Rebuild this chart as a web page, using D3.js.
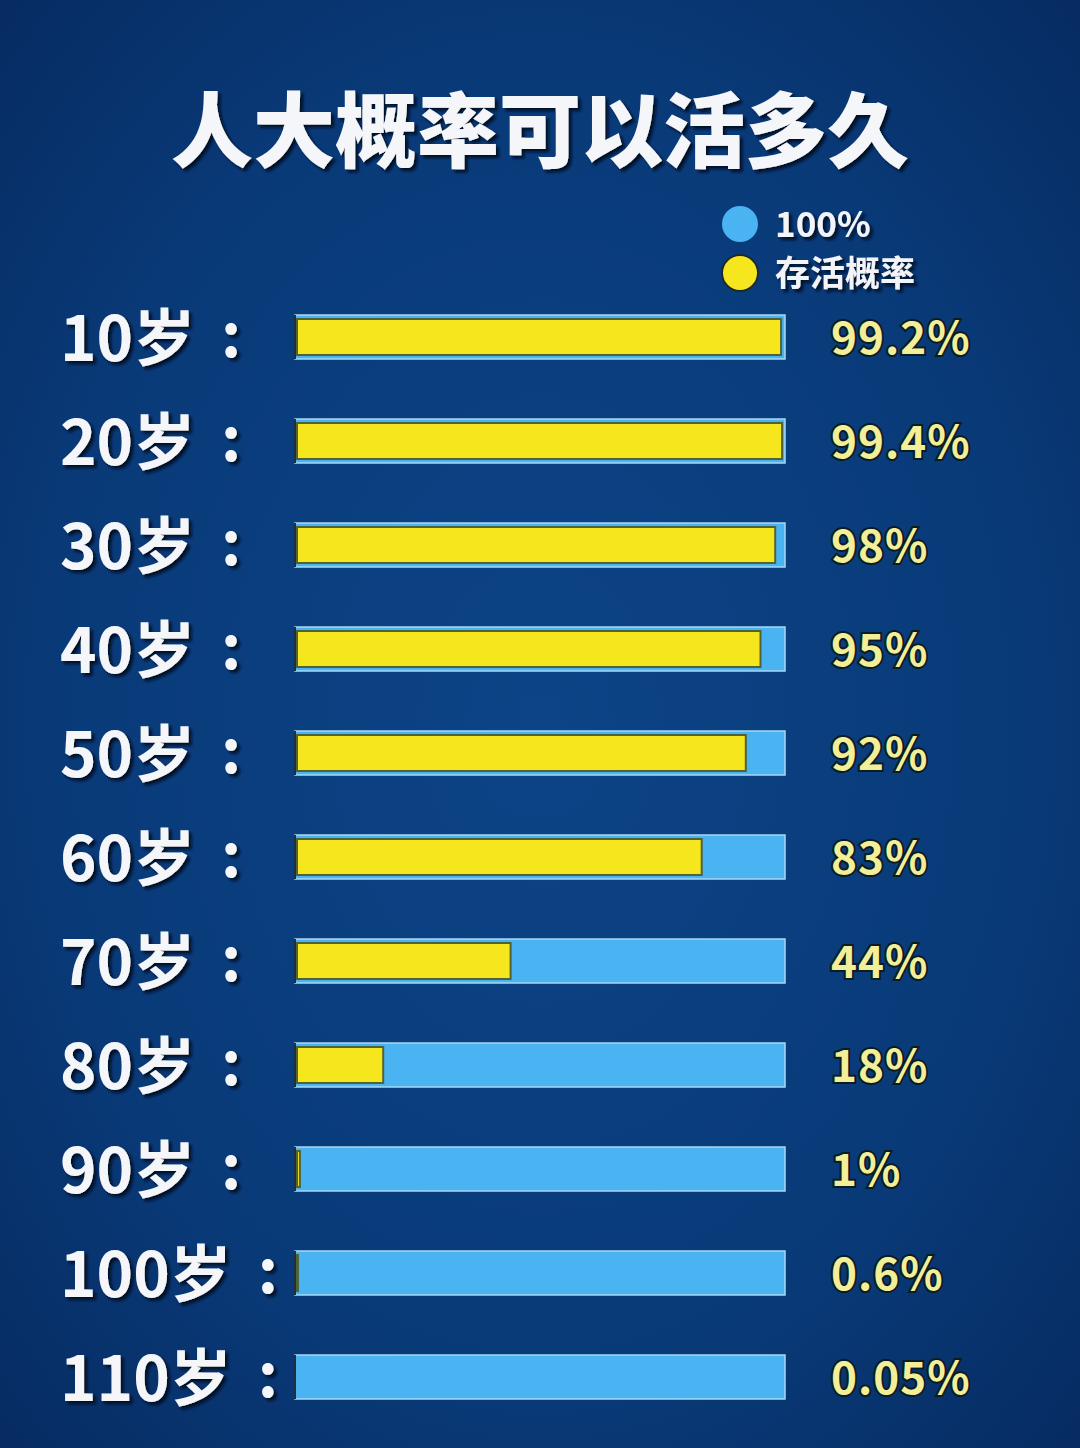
<!DOCTYPE html>
<html>
<head>
<meta charset="utf-8">
<script src="https://cdn.jsdelivr.net/npm/d3@7"></script>
<style>
  html, body { margin: 0; padding: 0; background: #083372; }
  svg { display: block; }
</style>
</head>
<body>
<div id="chart"></div>
<script>
const ages = ['10岁', '20岁', '30岁', '40岁', '50岁', '60岁', '70岁', '80岁', '90岁', '100岁', '110岁'];
const survival = [99.2, 99.4, 98, 95, 92, 83, 44, 18, 1, 0.6, 0.05];
const valueLabels = ['99.2%', '99.4%', '98%', '95%', '92%', '83%', '44%', '18%', '1%', '0.6%', '0.05%'];
const legendItems = ['100%', '存活概率'];

const W = 1080, H = 1448;
const font = '"Noto Sans CJK SC", "Noto Sans", sans-serif';

const svg = d3.select('#chart').append('svg')
    .attr('width', W)
    .attr('height', H);

const defs = svg.append('defs');
const bg = defs.append('radialGradient')
    .attr('id', 'bg')
    .attr('cx', '50%').attr('cy', '50%').attr('r', '75%');
bg.append('stop').attr('offset', '0%').attr('stop-color', '#0c4487');
bg.append('stop').attr('offset', '60%').attr('stop-color', '#093a78');
bg.append('stop').attr('offset', '100%').attr('stop-color', '#06295e');

const shadow = defs.append('filter').attr('id', 'shadow')
    .attr('x', '-10%').attr('y', '-20%').attr('width', '120%').attr('height', '140%');
shadow.append('feDropShadow')
    .attr('dx', 3).attr('dy', 3).attr('stdDeviation', 1.5)
    .attr('flood-color', '#020d24').attr('flood-opacity', 0.95);

svg.append('rect').attr('width', W).attr('height', H).attr('fill', 'url(#bg)');

// title
svg.append('text')
    .attr('x', W / 2)
    .attr('y', 161)
    .attr('text-anchor', 'middle')
    .attr('font-family', font)
    .attr('font-weight', 900)
    .attr('font-size', 82)
    .attr('fill', '#f4f6fa')
    .attr('filter', 'url(#shadow)')
    .text('人大概率可以活多久');

// legend
const legendColors = ['#4ab3f2', '#f6e61e'];
const legend = svg.append('g').selectAll('g')
    .data(legendItems)
    .join('g')
    .attr('transform', (d, i) => `translate(740, ${224 + i * 49})`);
legend.append('circle')
    .attr('r', 18)
    .attr('fill', (d, i) => legendColors[i])
    .attr('stroke', (d, i) => i === 1 ? '#1a2a30' : 'none')
    .attr('stroke-width', 2);
legend.append('text')
    .attr('x', 35)
    .attr('y', 13)
    .attr('font-family', font)
    .attr('font-weight', 700)
    .attr('font-size', 35)
    .attr('fill', '#f2f4f8')
    .attr('filter', 'url(#shadow)')
    .text(d => d);

// scales
const x = d3.scaleLinear().domain([0, 100]).range([295, 785]);
const y = d3.scalePoint().domain(ages).range([337, 1377]);
const barH = 44;

const rows = svg.append('g').selectAll('g')
    .data(ages.map((a, i) => ({ age: a, v: survival[i], label: valueLabels[i] })))
    .join('g')
    .attr('transform', d => `translate(0, ${y(d.age)})`);

// full (100%) bar
rows.append('rect')
    .attr('x', x(0))
    .attr('y', -barH / 2)
    .attr('width', x(100) - x(0))
    .attr('height', barH)
    .attr('fill', '#4ab3f2')
    .attr('stroke', '#a8d8f4')
    .attr('stroke-width', 1.5);

// survival bar
rows.append('rect')
    .attr('x', x(0) + 2)
    .attr('y', -barH / 2 + 4)
    .attr('width', d => Math.max(0, x(d.v) - x(0) - 2))
    .attr('height', barH - 8)
    .attr('fill', '#f6e61e')
    .attr('stroke', '#4f6238')
    .attr('stroke-width', d => d.v < 0.5 ? 1 : 2);

// left dark edge
rows.append('line')
    .attr('x1', x(0)).attr('x2', x(0))
    .attr('y1', -barH / 2).attr('y2', barH / 2)
    .attr('stroke', '#1c3040')
    .attr('stroke-width', 2);

// age labels
const ageText = rows.append('text')
    .attr('x', 60)
    .attr('y', 24)
    .attr('font-family', font)
    .attr('font-weight', 700)
    .attr('font-size', 62)
    .attr('fill', '#f4f6fa')
    .attr('filter', 'url(#shadow)')
    .text(d => d.age);

rows.append('text')
    .attr('x', function(d, i) { return 60 + ageText.nodes()[i].getComputedTextLength() + 36; })
    .attr('y', 20)
    .attr('text-anchor', 'middle')
    .attr('font-family', font)
    .attr('font-weight', 700)
    .attr('font-size', 62)
    .attr('fill', '#f4f6fa')
    .attr('filter', 'url(#shadow)')
    .text(':');

// value labels
rows.append('text')
    .attr('x', 831)
    .attr('y', 17)
    .attr('font-family', font)
    .attr('font-weight', 700)
    .attr('font-size', 44)
    .attr('letter-spacing', 1)
    .attr('fill', '#f3ef98')
    .attr('stroke', '#0a1c24')
    .attr('stroke-width', 4)
    .attr('paint-order', 'stroke')
    .text(d => d.label);
</script>
</body>
</html>
